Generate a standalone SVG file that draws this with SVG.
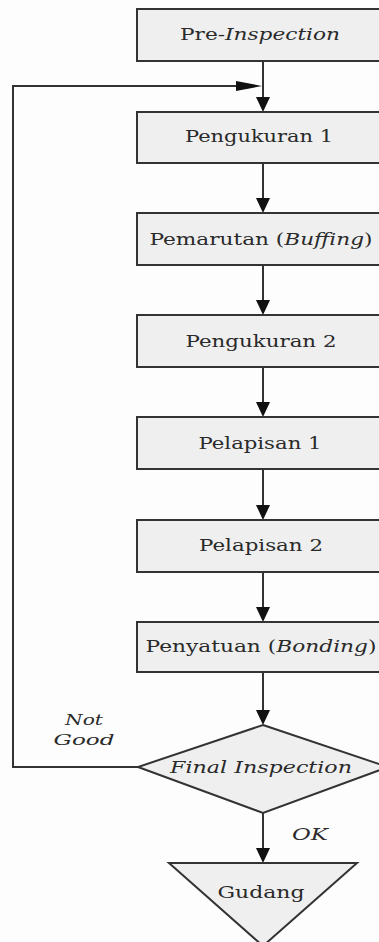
<svg xmlns="http://www.w3.org/2000/svg" width="379" height="942" viewBox="0 0 379 942">
<style>
.box{fill:#efefef;stroke:#333;stroke-width:2}
.t{font-family:"DejaVu Serif","Liberation Serif",serif;font-size:17px;fill:#2a2a2a;text-anchor:middle}
.s{font-size:15px}
.i{font-style:italic}
.c{fill:none;stroke:#333;stroke-width:2}
</style>
<rect width="379" height="942" fill="#fdfdfd"/>
<g id="connectors">
<line class="c" x1="263" y1="61" x2="263" y2="100"/>
<path d="M256,97 L270,97 L263,112 Z" fill="#111"/>
<polyline class="c" points="138,767 13,767 13,86 240,86"/>
<path d="M236,81 L262,86 L236,91 Z" fill="#111"/>
<line class="c" x1="263" y1="163" x2="263" y2="200"/>
<path d="M256,198 L270,198 L263,213 Z" fill="#111"/>
<line class="c" x1="263" y1="265" x2="263" y2="302"/>
<path d="M256,300 L270,300 L263,315 Z" fill="#111"/>
<line class="c" x1="263" y1="367" x2="263" y2="404"/>
<path d="M256,402 L270,402 L263,417 Z" fill="#111"/>
<line class="c" x1="263" y1="469" x2="263" y2="507"/>
<path d="M256,505 L270,505 L263,520 Z" fill="#111"/>
<line class="c" x1="263" y1="572" x2="263" y2="609"/>
<path d="M256,607 L270,607 L263,622 Z" fill="#111"/>
<line class="c" x1="263" y1="672" x2="263" y2="712"/>
<path d="M256,710 L270,710 L263,725 Z" fill="#111"/>
<line class="c" x1="263" y1="813" x2="263" y2="850"/>
<path d="M256,848 L270,848 L263,863 Z" fill="#111"/>
<text class="t i" x="310" y="840" textLength="36" lengthAdjust="spacingAndGlyphs">OK</text>
<text class="t i s" x="84" y="725" textLength="38" lengthAdjust="spacingAndGlyphs">Not</text>
<text class="t i s" x="84" y="745" textLength="61" lengthAdjust="spacingAndGlyphs">Good</text>
</g>
<g id="pre-inspection">
<rect class="box" x="137" y="9" width="252" height="52"/>
<text class="t" x="260" y="40" textLength="160" lengthAdjust="spacingAndGlyphs">Pre-<tspan class="i">Inspection</tspan></text>
</g>
<g id="pengukuran-1">
<rect class="box" x="137" y="112" width="252" height="51"/>
<text class="t" x="259" y="142" textLength="148" lengthAdjust="spacingAndGlyphs">Pengukuran 1</text>
</g>
<g id="pemarutan">
<rect class="box" x="137" y="213" width="252" height="52"/>
<text class="t" x="261" y="245" textLength="223" lengthAdjust="spacingAndGlyphs">Pemarutan (<tspan class="i">Buffing</tspan>)</text>
</g>
<g id="pengukuran-2">
<rect class="box" x="137" y="315" width="252" height="52"/>
<text class="t" x="261" y="347" textLength="151" lengthAdjust="spacingAndGlyphs">Pengukuran 2</text>
</g>
<g id="pelapisan-1">
<rect class="box" x="137" y="417" width="252" height="52"/>
<text class="t" x="260" y="449" textLength="123" lengthAdjust="spacingAndGlyphs">Pelapisan 1</text>
</g>
<g id="pelapisan-2">
<rect class="box" x="137" y="520" width="252" height="52"/>
<text class="t" x="261" y="551" textLength="124" lengthAdjust="spacingAndGlyphs">Pelapisan 2</text>
</g>
<g id="penyatuan">
<rect class="box" x="137" y="622" width="252" height="50"/>
<text class="t" x="261" y="652" textLength="231" lengthAdjust="spacingAndGlyphs">Penyatuan (<tspan class="i">Bonding</tspan>)</text>
</g>
<g id="final-inspection">
<polygon class="box" points="263,725 388,767 263,813 138,767"/>
<text class="t i" x="261" y="773" textLength="182" lengthAdjust="spacingAndGlyphs">Final Inspection</text>
</g>
<g id="gudang">
<polygon class="box" points="169,863 357,863 263,946"/>
<text class="t" x="261" y="898" textLength="87" lengthAdjust="spacingAndGlyphs">Gudang</text>
</g>
</svg>
